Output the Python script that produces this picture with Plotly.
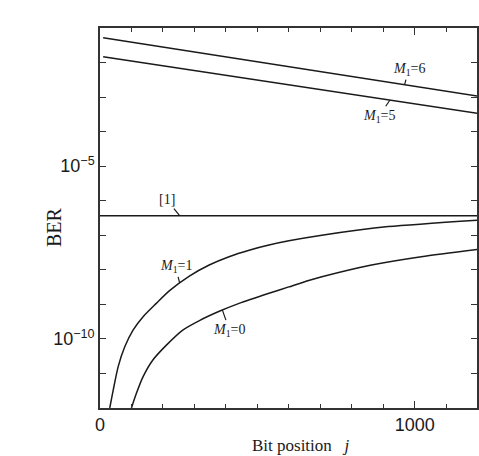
import math
import plotly.graph_objects as go

# ---- data ----
j_m6 = [10, 600, 1200]
ber_m6 = [5.2e-2, 7.6e-3, 1.07e-3]

j_m5 = [10, 600, 1200]
ber_m5 = [1.48e-2, 2.26e-3, 3.4e-4]

j_ref1 = [0, 1200]
ber_ref1 = [3.7e-7, 3.7e-7]

j_m1 = [31, 42, 58, 79, 105, 137, 179, 221, 284, 347, 410, 474, 537, 600, 705, 916, 1200]
ber_m1 = [1e-12, 3.3e-12, 1.6e-11, 6.0e-11, 1.8e-10, 4.4e-10, 1.07e-9, 2.5e-9,
          6.6e-9, 1.38e-8, 2.4e-8, 3.7e-8, 5.2e-8, 6.9e-8, 1.0e-7, 1.78e-7, 2.75e-7]

j_m0 = [100, 116, 137, 168, 211, 263, 316, 379, 442, 537, 600, 663, 705, 863, 1021, 1200]
ber_m0 = [1e-12, 2.7e-12, 8.1e-12, 2.45e-11, 6.6e-11, 1.8e-10, 3.4e-10, 6.3e-10,
          1.07e-9, 2.1e-9, 3.2e-9, 4.9e-9, 6.3e-9, 1.38e-8, 2.4e-8, 3.9e-8]

y_tickvals = [1e-10, 1e-5]
y_ticktext = ["10<sup>\u221210</sup>", "10<sup>\u22125</sup>"]
x_tickvals = [0, 1000]
x_ticktext = ["0", "1000"]

labels = [
    # text, j, ber, ax, ay
    ("<i>M</i><sub>1</sub>=6", 968, 2.3e-3, 4, -15),
    ("<i>M</i><sub>1</sub>=5", 921, 8.1e-4, -11, 16),
    ("[1]", 253, 3.7e-7, -13, -16),
    ("<i>M</i><sub>1</sub>=1", 253, 4.2e-9, -4, -16),
    ("<i>M</i><sub>1</sub>=0", 389, 6.8e-10, 7, 20),
]

fig = go.Figure()
ink = "#1a1a1a"
for xs, ys, sm in [(j_m6, ber_m6, 0), (j_m5, ber_m5, 0), (j_ref1, ber_ref1, 0),
                   (j_m1, ber_m1, 0.7), (j_m0, ber_m0, 0.7)]:
    ln = dict(color=ink, width=1.5)
    if sm:
        ln.update(shape="spline", smoothing=sm)
    fig.add_trace(go.Scatter(x=xs, y=ys, mode="lines", line=ln,
                             showlegend=False, hoverinfo="skip"))

for text, jx, by, ax, ay in labels:
    fig.add_annotation(x=jx, y=math.log10(by), xref="x", yref="y", text=text,
                       showarrow=True, arrowhead=0, arrowwidth=1.2, arrowcolor=ink,
                       ax=ax, ay=ay,
                       font=dict(family="Liberation Serif", size=14, color=ink))

# axis titles
fig.add_annotation(x=(302 - 100) / 379, y=0.0, xref="paper", yref="paper",
                   yshift=-37, yanchor="middle", showarrow=False,
                   text="Bit position\u00a0\u00a0\u00a0<i>j</i>",
                   font=dict(family="Liberation Serif", size=17, color=ink))
fig.add_annotation(x=0, y=(408 - 227) / 380, xref="paper", yref="paper",
                   xshift=-59, showarrow=False, textangle=-90, text="BER",
                   font=dict(family="Liberation Serif", size=20, color=ink))

axis_common = dict(showline=True, linecolor="#333333", linewidth=1.5, mirror="ticks",
                   ticks="inside", tickcolor="#333333", showgrid=False, zeroline=False)

fig.update_xaxes(range=[0, 1198], tickvals=x_tickvals, ticktext=x_ticktext, ticklen=7,
                 tickwidth=1.2,
                 minor=dict(dtick=100, tick0=0, ticks="inside", ticklen=4,
                            tickcolor="#333333", tickwidth=1),
                 tickfont=dict(family="Liberation Sans", size=18, color=ink),
                 **axis_common)
fig.update_yaxes(type="log", range=[-12, -1], tickvals=y_tickvals, ticktext=y_ticktext,
                 ticklen=6, tickwidth=1.2,
                 minor=dict(dtick=1, tick0=0, ticks="inside", ticklen=6,
                            tickcolor="#333333", tickwidth=1.2),
                 tickfont=dict(family="Liberation Sans", size=18, color=ink),
                 **axis_common)

fig.update_layout(width=479, height=456, margin=dict(l=100, r=0, t=28, b=48),
                  paper_bgcolor="white", plot_bgcolor="white")

fig.write_html("out.html")
